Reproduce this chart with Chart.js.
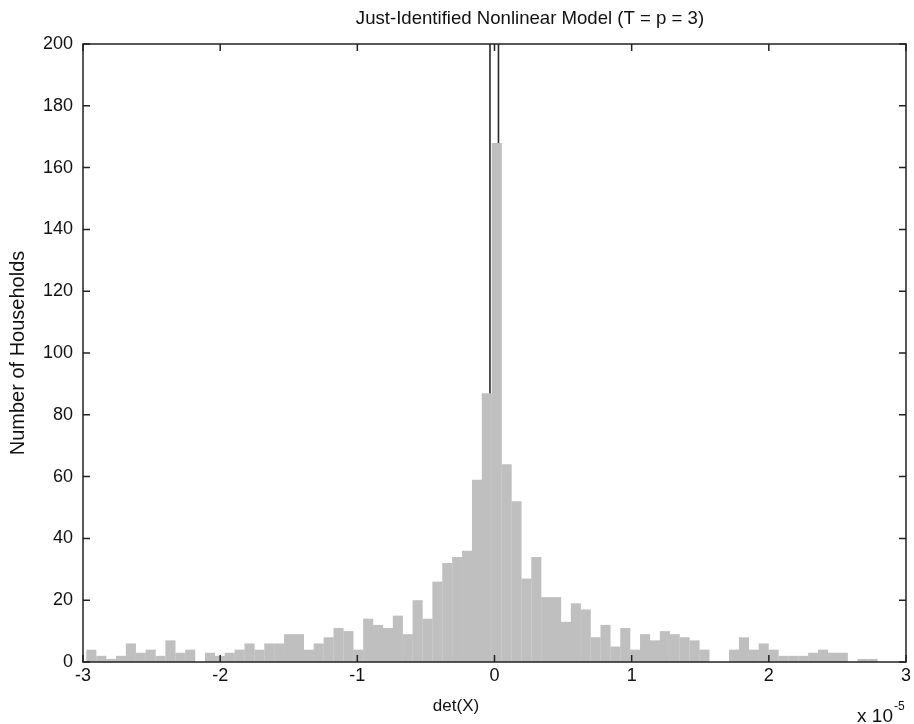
<!DOCTYPE html>
<html>
<head>
<meta charset="utf-8">
<title>Just-Identified Nonlinear Model</title>
<script src="https://cdn.jsdelivr.net/npm/chart.js@4.4.1/dist/chart.umd.min.js"></script>
<style>
    html, body { margin: 0; padding: 0; background: #fff; }
    #wrap { width: 914px; height: 724px; position: relative; }
</style>
</head>
<body>
<div id="wrap"><canvas id="myChart"></canvas></div>
<script>
// histogram of det(X), units of 1e-5
const binStart = -2.9753;   // left edge of first bin
const binWidth = 0.07209;   // width of one bin
const counts = [
    4, 2, 1, 2, 6, 3, 4, 2, 7, 3,
    4, 0, 3, 2, 3, 4, 6, 4, 6, 6,
    9, 9, 4, 6, 8, 11, 10, 4, 14, 12,
    11, 15, 9, 20, 14, 26, 32, 34, 36, 59,
    87, 168, 64, 52, 27, 34, 21, 21, 13, 19,
    17, 8, 12, 5, 11, 4, 9, 7, 10, 9,
    8, 7, 4, 0, 0, 4, 8, 4, 6, 4,
    2, 2, 2, 3, 4, 3, 3, 0, 1, 1,
    0, 0
];
// the two vertical reference lines
const refLines = [-0.033, 0.029];
const xTicks = [-3, -2, -1, 0, 1, 2, 3];
const yMax = 200;

const titleText = 'Just-Identified Nonlinear Model (T = p = 3)';
const xTitle = 'det(X)';
const FONT = '"Liberation Sans", Arial, sans-serif';

const histData = counts.map((c, i) => ({ x: binStart + (i + 0.5) * binWidth, y: c }));

const lineSets = refLines.map(v => ({
    type: 'line',
    data: [{ x: v, y: 0 }, { x: v, y: yMax }],
    borderColor: '#2a2a2a',
    borderWidth: 1.6,
    pointRadius: 0,
    fill: false
}));

// matlab style box + inward ticks + title / labels (the original is placed off-centre)
const boxPlugin = {
    id: 'box',
    afterDraw(chart) {
        const ctx = chart.ctx;
        const a = chart.chartArea;
        const xs = chart.scales.x, ys = chart.scales.y;
        ctx.save();
        ctx.strokeStyle = '#222';
        ctx.lineWidth = 1.5;
        ctx.strokeRect(a.left, a.top, a.right - a.left, a.bottom - a.top);
        ctx.beginPath();
        xs.ticks.forEach(t => {
            const px = xs.getPixelForValue(t.value);
            ctx.moveTo(px, a.bottom); ctx.lineTo(px, a.bottom - 7);
            ctx.moveTo(px, a.top); ctx.lineTo(px, a.top + 7);
        });
        ys.ticks.forEach(t => {
            const py = ys.getPixelForValue(t.value);
            ctx.moveTo(a.left, py); ctx.lineTo(a.left + 7, py);
            ctx.moveTo(a.right, py); ctx.lineTo(a.right - 7, py);
        });
        ctx.stroke();

        ctx.fillStyle = '#111';
        ctx.textBaseline = 'middle';
        ctx.textAlign = 'center';
        ctx.font = '18.6px ' + FONT;
        ctx.fillText(titleText, 530, 19);
        ctx.font = '17px ' + FONT;
        ctx.fillText(xTitle, 456, 706);

        // x 10^-5
        ctx.textBaseline = 'alphabetic';
        ctx.font = '19px ' + FONT;
        ctx.textAlign = 'right';
        ctx.fillText('x 10', a.right - 13, 722);
        ctx.font = '12px ' + FONT;
        ctx.textAlign = 'left';
        ctx.fillText('-5', a.right - 12, 710);
        ctx.restore();
    }
};

const ctx = document.getElementById('myChart');
const myChart = new Chart(ctx, {
    type: 'bar',
    data: {
        datasets: [
            {
                label: 'Households',
                data: histData,
                backgroundColor: '#bfbfbf',
                borderWidth: 0,
                barPercentage: 1.02,
                categoryPercentage: 1.0
            },
            ...lineSets
        ]
    },
    options: {
        responsive: true,
        maintainAspectRatio: false,
        animation: false,
        layout: { padding: { left: 0, right: 7, top: 44, bottom: 0 } },
        scales: {
            x: {
                type: 'linear',
                offset: false,
                min: -3,
                max: 3,
                afterBuildTicks: scale => { scale.ticks = xTicks.map(v => ({ value: v })); },
                afterFit: scale => { scale.height = 62; },
                grid: { display: false, drawTicks: false, offset: false },
                border: { display: false },
                ticks: {
                    padding: 3,
                    color: '#111',
                    font: { family: FONT, size: 18 }
                }
            },
            y: {
                min: 0,
                max: yMax,
                afterFit: scale => { scale.width = 83; },
                grid: { display: false, drawTicks: false },
                border: { display: false },
                ticks: {
                    stepSize: 20,
                    padding: 10,
                    color: '#111',
                    font: { family: FONT, size: 18 }
                },
                title: {
                    display: true,
                    text: 'Number of Households',
                    color: '#111',
                    font: { family: FONT, size: 20 },
                    padding: { top: 6, bottom: 0 }
                }
            }
        },
        plugins: {
            legend: { display: false },
            tooltip: { enabled: false }
        }
    },
    plugins: [boxPlugin]
});
</script>
</body>
</html>
